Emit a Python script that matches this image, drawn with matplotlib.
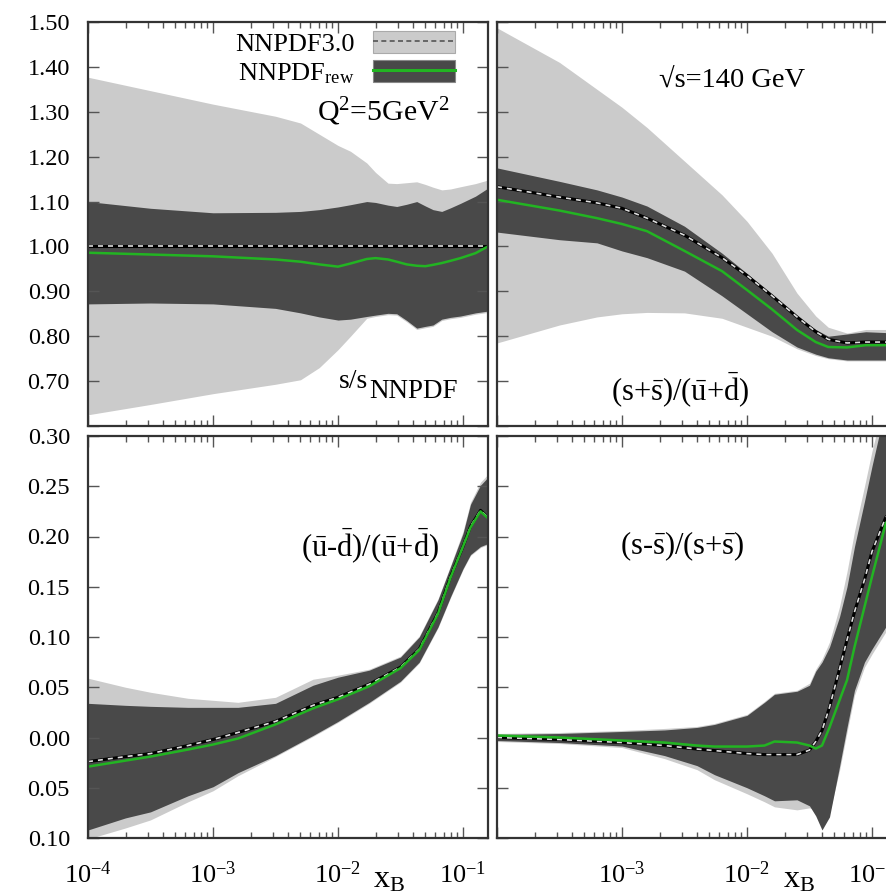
import numpy as np
import matplotlib
matplotlib.use("Agg")
import matplotlib.pyplot as plt
from matplotlib.patches import Patch
from matplotlib.lines import Line2D
from matplotlib.ticker import NullFormatter

plt.rcParams['font.family'] = ['Liberation Serif', 'DejaVu Serif']
plt.rcParams['mathtext.fontset'] = 'custom'
plt.rcParams['mathtext.rm'] = 'Liberation Serif'
plt.rcParams['mathtext.it'] = 'Liberation Serif:italic'
plt.rcParams['mathtext.bf'] = 'Liberation Serif:bold'

LIGHT = "#cbcbcb"
DARK = "#494949"
GREEN = "#22b422"

# ---- panel 1: s/s_NNPDF  (x given as log10 x_B)
p1_x = [-4.0, -3.5, -3.0, -2.5, -2.3, -2.15, -2.0, -1.9, -1.77, -1.7, -1.6, -1.53, -1.45, -1.37, -1.3, -1.24, -1.17, -1.1, -1.02, -0.9, -0.8]
p1_nn_hi = [1.377, 1.347, 1.317, 1.29, 1.275, 1.25, 1.225, 1.212, 1.186, 1.165, 1.141, 1.14, 1.142, 1.144, 1.138, 1.132, 1.126, 1.128, 1.133, 1.14, 1.148]
p1_nn_lo = [0.625, 0.648, 0.672, 0.693, 0.703, 0.73, 0.77, 0.80, 0.84, 0.844, 0.848, 0.847, 0.832, 0.815, 0.819, 0.822, 0.835, 0.839, 0.842, 0.849, 0.853]
p1_nn_c = [1.00, 1.00, 1.00, 1.00, 1.00, 1.00, 1.00, 1.00, 1.00, 1.00, 1.00, 1.00, 1.00, 1.00, 1.00, 1.00, 1.00, 1.00, 1.00, 1.00, 1.00]
p1_rw_hi = [1.10, 1.085, 1.075, 1.076, 1.078, 1.082, 1.088, 1.093, 1.10, 1.098, 1.092, 1.089, 1.094, 1.10, 1.09, 1.082, 1.078, 1.086, 1.096, 1.112, 1.13]
p1_rw_lo = [0.872, 0.874, 0.872, 0.862, 0.852, 0.843, 0.836, 0.838, 0.844, 0.847, 0.851, 0.85, 0.835, 0.818, 0.822, 0.825, 0.838, 0.842, 0.845, 0.852, 0.856]
p1_rw_c = [0.986, 0.982, 0.978, 0.971, 0.966, 0.96, 0.955, 0.962, 0.972, 0.974, 0.971, 0.966, 0.96, 0.957, 0.956, 0.959, 0.963, 0.968, 0.974, 0.985, 1.0]

# ---- panel 2: (s+sbar)/(ubar+dbar)
p2_x = [-4.0, -3.5, -3.2, -3.0, -2.8, -2.5, -2.2, -2.0, -1.8, -1.6, -1.45, -1.35, -1.2, -1.05, -0.8]
p2_nn_hi = [1.487, 1.41, 1.35, 1.31, 1.265, 1.19, 1.115, 1.056, 0.985, 0.896, 0.845, 0.82, 0.807, 0.815, 0.815]
p2_nn_lo = [0.785, 0.825, 0.843, 0.85, 0.853, 0.852, 0.84, 0.82, 0.80, 0.772, 0.757, 0.75, 0.745, 0.745, 0.745]
p2_nn_c = [1.133, 1.11, 1.097, 1.085, 1.063, 1.025, 0.975, 0.935, 0.89, 0.843, 0.81, 0.793, 0.785, 0.787, 0.787]
p2_rw_hi = [1.175, 1.145, 1.126, 1.11, 1.09, 1.045, 0.985, 0.94, 0.89, 0.843, 0.815, 0.80, 0.805, 0.81, 0.807]
p2_rw_lo = [1.032, 1.015, 1.008, 0.99, 0.975, 0.945, 0.89, 0.85, 0.81, 0.776, 0.76, 0.752, 0.747, 0.747, 0.747]
p2_rw_c = [1.104, 1.08, 1.063, 1.05, 1.034, 0.99, 0.945, 0.903, 0.86, 0.814, 0.787, 0.776, 0.775, 0.78, 0.78]

# ---- panel 3: (ubar-dbar)/(ubar+dbar)
p3_x = [-4.0, -3.7, -3.5, -3.2, -3.0, -2.8, -2.5, -2.2, -2.0, -1.75, -1.5, -1.35, -1.2, -1.1, -1.0, -0.94, -0.86, -0.8]
p3_nn_hi = [0.059, 0.050, 0.045, 0.039, 0.037, 0.035, 0.040, 0.058, 0.062, 0.068, 0.081, 0.101, 0.138, 0.171, 0.205, 0.234, 0.254, 0.262]
p3_nn_lo = [-0.101, -0.090, -0.082, -0.064, -0.053, -0.038, -0.019, 0.001, 0.015, 0.034, 0.055, 0.074, 0.109, 0.139, 0.167, 0.181, 0.189, 0.192]
p3_nn_c = [-0.024, -0.019, -0.016, -0.008, -0.002, 0.005, 0.016, 0.032, 0.040, 0.053, 0.070, 0.088, 0.124, 0.160, 0.190, 0.210, 0.226, 0.219]
p3_rw_hi = [0.034, 0.032, 0.031, 0.030, 0.030, 0.030, 0.034, 0.052, 0.060, 0.067, 0.080, 0.100, 0.137, 0.170, 0.203, 0.232, 0.251, 0.259]
p3_rw_lo = [-0.092, -0.080, -0.074, -0.058, -0.049, -0.035, -0.018, 0.002, 0.016, 0.035, 0.056, 0.075, 0.110, 0.140, 0.168, 0.182, 0.190, 0.193]
p3_rw_c = [-0.029, -0.023, -0.019, -0.012, -0.007, -0.001, 0.013, 0.029, 0.038, 0.051, 0.069, 0.087, 0.123, 0.159, 0.190, 0.209, 0.225, 0.218]

# ---- panel 4: (s-sbar)/(s+sbar)
p4_x = [-4.0, -3.5, -3.0, -2.66, -2.4, -2.26, -2.0, -1.86, -1.78, -1.6, -1.5, -1.45, -1.4, -1.34, -1.26, -1.2, -1.14, -1.06, -1.0, -0.89, -0.8]
p4_nn_hi = [0.004, 0.005, 0.007, 0.009, 0.011, 0.014, 0.023, 0.036, 0.044, 0.047, 0.054, 0.068, 0.078, 0.095, 0.13, 0.165, 0.205, 0.25, 0.285, 0.34, 0.37]
p4_nn_lo = [-0.004, -0.006, -0.010, -0.021, -0.032, -0.042, -0.056, -0.064, -0.069, -0.072, -0.070, -0.072, -0.085, -0.075, -0.033, 0.005, 0.042, 0.07, 0.083, 0.105, 0.12]
p4_nn_c = [0.0, -0.002, -0.005, -0.008, -0.0115, -0.013, -0.016, -0.017, -0.017, -0.017, -0.0125, -0.004, 0.007, 0.03, 0.068, 0.097, 0.125, 0.157, 0.185, 0.219, 0.23]
p4_rw_hi = [0.003, 0.004, 0.006, 0.0075, 0.010, 0.013, 0.022, 0.035, 0.043, 0.046, 0.052, 0.066, 0.075, 0.09, 0.12, 0.15, 0.19, 0.235, 0.27, 0.33, 0.36]
p4_rw_lo = [-0.003, -0.005, -0.0085, -0.018, -0.028, -0.037, -0.050, -0.058, -0.063, -0.062, -0.068, -0.078, -0.092, -0.079, -0.029, 0.01, 0.047, 0.075, 0.088, 0.11, 0.125]
p4_rw_c = [0.002, 0.0, -0.003, -0.005, -0.008, -0.009, -0.009, -0.008, -0.004, -0.005, -0.008, -0.011, -0.008, 0.01, 0.037, 0.057, 0.09, 0.13, 0.16, 0.213, 0.23]

top_ticks = [0.6, 0.7, 0.8, 0.9, 1.0, 1.1, 1.2, 1.3, 1.4, 1.5]
top_labels = ["", "0.70", "0.80", "0.90", "1.00", "1.10", "1.20", "1.30", "1.40", "1.50"]
bot_ticks = [-0.10, -0.05, 0.0, 0.05, 0.10, 0.15, 0.20, 0.25, 0.30]
bot_labels = ["0.10", "0.05", "0.00", "0.05", "0.10", "0.15", "0.20", "0.25", "0.30"]
x_ticks = [1e-4, 1e-3, 1e-2, 1e-1]
x_labels = [r"$10^{-4}$", r"$10^{-3}$", r"$10^{-2}$", r"$10^{-1}$"]

W, H = 886, 894
fig = plt.figure(figsize=(W / 100, H / 100), dpi=100)


def box(l, t, r, b):
    return [l / W, 1 - b / H, (r - l) / W, (b - t) / H]


def draw(ax, xlog, nn_lo, nn_hi, nn_c, rw_lo, rw_hi, rw_c):
    x = 10.0 ** np.array(xlog)
    ax.fill_between(x, nn_lo, nn_hi, color=LIGHT, lw=0)
    ax.fill_between(x, rw_lo, rw_hi, color=DARK, lw=0)
    ax.plot(x, nn_c, color="black", lw=2.2)
    ax.plot(x, nn_c, color="#dddddd", lw=1.2, dashes=(3, 3))
    ax.plot(x, rw_c, color=GREEN, lw=1.8)


def style(ax, yticks, ylabels, xlabels):
    ax.set_xscale("log")
    ax.set_xlim(1e-4, 10 ** -0.8)
    ax.set_ylim(yticks[0], yticks[-1])
    ax.set_xticks(x_ticks)
    ax.set_xticklabels(xlabels)
    ax.xaxis.set_minor_formatter(NullFormatter())
    ax.set_yticks(yticks)
    ax.set_yticklabels(ylabels)
    ax.tick_params(which="both", direction="in", top=True, right=True,
                   color="#555555")
    ax.tick_params(which="major", length=8, width=1.0)
    ax.tick_params(which="minor", length=4, width=1.0)
    ax.tick_params(axis="y", pad=13, labelsize=17.5)
    ax.tick_params(axis="x", pad=17, labelsize=19)
    for s in ax.spines.values():
        s.set_linewidth(1.6)
        s.set_color("#333333")


ax1 = fig.add_axes(box(88, 22, 488, 426))
ax2 = fig.add_axes(box(497, 22, 897, 426))
ax3 = fig.add_axes(box(88, 436, 488, 838))
ax4 = fig.add_axes(box(497, 436, 897, 838))

draw(ax1, p1_x, p1_nn_lo, p1_nn_hi, p1_nn_c, p1_rw_lo, p1_rw_hi, p1_rw_c)
draw(ax2, p2_x, p2_nn_lo, p2_nn_hi, p2_nn_c, p2_rw_lo, p2_rw_hi, p2_rw_c)
draw(ax3, p3_x, p3_nn_lo, p3_nn_hi, p3_nn_c, p3_rw_lo, p3_rw_hi, p3_rw_c)
draw(ax4, p4_x, p4_nn_lo, p4_nn_hi, p4_nn_c, p4_rw_lo, p4_rw_hi, p4_rw_c)

style(ax1, top_ticks, top_labels, ["", "", "", ""])
style(ax2, top_ticks, [""] * len(top_ticks), ["", "", "", ""])
style(ax3, bot_ticks, bot_labels, x_labels)
style(ax4, bot_ticks, [""] * len(bot_ticks), [""] + x_labels[1:])

# legend
h1 = (Patch(facecolor=LIGHT, edgecolor="#aaaaaa", lw=0.8),
      Line2D([], [], color="#555555", lw=1.2, dashes=(3, 2)))
h2 = (Patch(facecolor=DARK, edgecolor="#888888", lw=0.8),
      Line2D([], [], color=GREEN, lw=2.2))
ax1.legend([h1, h2], ["NNPDF3.0", r"NNPDF$_{\rm rew}$"], loc="upper right",
           bbox_to_anchor=((455 - 88) / 400, 1 - 9 / 404), frameon=False,
           markerfirst=False, fontsize=19, handlelength=3.1, handleheight=0.9,
           handletextpad=0.7, labelspacing=0.15, borderpad=0, borderaxespad=0)


def fx(px):
    return px / W


def fy(py):
    return 1 - py / H


fig.text(fx(383), fy(112), r"Q$^2$=5GeV$^2$", fontsize=21.5, ha="center", va="center")
fig.text(fx(732), fy(80), "\u221as=140 GeV", fontsize=20.5, ha="center", va="center")
fig.text(fx(368), fy(381), "s/s", fontsize=20, ha="right", va="center")
fig.text(fx(369), fy(392), "NNPDF", fontsize=19.5, ha="left", va="center")
fig.text(fx(680), fy(390), r"(s+$\bar{\rm s}$)/($\bar{\rm u}$+$\bar{\rm d}$)", fontsize=22, ha="center", va="center")
fig.text(fx(370), fy(546), r"($\bar{\rm u}$-$\bar{\rm d}$)/($\bar{\rm u}$+$\bar{\rm d}$)", fontsize=22, ha="center", va="center")
fig.text(fx(682), fy(546), r"(s-$\bar{\rm s}$)/(s+$\bar{\rm s}$)", fontsize=22, ha="center", va="center")
fig.text(fx(373), fy(887), r"x$_{\rm B}$", fontsize=23, ha="left", va="baseline")
fig.text(fx(783), fy(887), r"x$_{\rm B}$", fontsize=23, ha="left", va="baseline")

fig.savefig("out.png", dpi=100)
